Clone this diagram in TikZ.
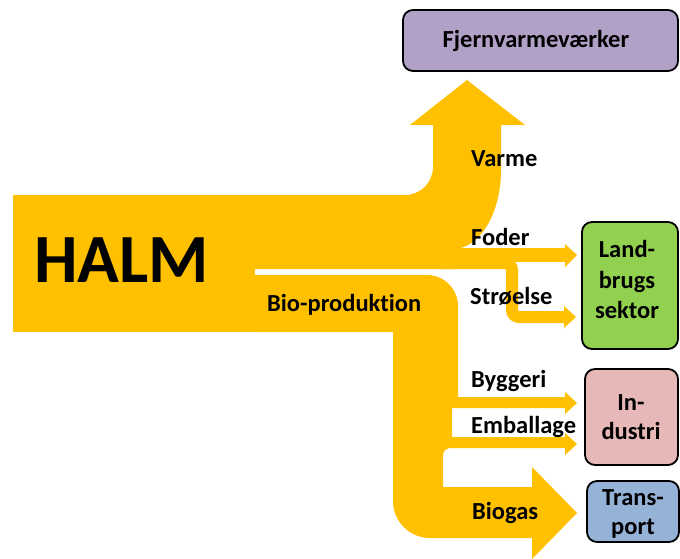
\documentclass[tikz,border=0pt]{standalone}
\usepackage{fontspec}
\setmainfont[Ligatures={NoCommon}]{Carlito}
\definecolor{halm}{HTML}{FFC000}
\definecolor{fjvcol}{HTML}{B2A1C7}
\definecolor{landcol}{HTML}{92D050}
\definecolor{indcol}{HTML}{E6B9B8}
\definecolor{trancol}{HTML}{95B3D7}
\begin{document}
\begin{tikzpicture}[x=1pt,y=-1pt,
  band/.style={fill=halm,draw=none},
  flowline/.style={draw=halm,line width=12pt,rounded corners=7pt},
  lbl/.style={font=\bfseries\fontsize{24.5}{29}\selectfont,anchor=base west,inner sep=0pt},
  boxtxt/.style={font=\bfseries\fontsize{24.5}{29}\selectfont,anchor=base,inner sep=0pt},
  target/.style={draw=black,line width=1.8pt,rounded corners=10pt,inner sep=0pt}]
\useasboundingbox (0,0) rectangle (680,559);
% source block
\path[band] (13,195) rectangle (255,332);
% upper band with Varme arrow
\path[band] (13,195) -- (405,195) .. controls (420.5,195) and (433,182.5) .. (433,167)
  -- (433,125) -- (410,125) -- (467,80) -- (525,125) -- (501,125) -- (501,170)
  .. controls (501,213.6) and (479.5,249) .. (453,249) -- (453,269) -- (13,269) -- cycle;
% Foder
\path[band] (440,248) rectangle (565,262);
\path[band] (565,244) -- (577,255) -- (565,267) -- cycle;
% Stroelse
\draw[flowline] (440,263) -- (512,263) -- (512,317) -- (565,317);
\path[band] (564,306) -- (576,317) -- (564,328) -- cycle;
% Bio-produktion trunk with Byggeri, Emballage, Biogas
\path[band] (255,275) -- (427,275) .. controls (444,275) and (458,289) .. (458,306)
  -- (458,397) -- (565,397) -- (565,392) -- (577,403) -- (565,414) -- (565,408)
  -- (452,408) -- (452,437) -- (565,437) -- (565,433) -- (577,444) -- (565,455)
  -- (565,448) -- (451,448) .. controls (446,448) and (443,451) .. (443,456)
  -- (443,487) -- (532,487) -- (532,467) -- (577,513) -- (532,559) -- (532,538)
  -- (430,538) .. controls (409.6,538) and (393,521.4) .. (393,501)
  -- (393,332) -- (255,332) -- cycle;
% target boxes
\node[target,fill=fjvcol,minimum width=275pt,minimum height=61pt] (fjv) at (540.5,40.5) {};
\node[target,fill=landcol,minimum width=96pt,minimum height=127pt] (land) at (630,285.5) {};
\node[target,fill=indcol,minimum width=93pt,minimum height=96pt] (ind) at (631.5,417) {};
\node[target,fill=trancol,minimum width=92pt,minimum height=61pt] (tran) at (633,511.5) {};
% box texts
\node[boxtxt] (tfjv) at (536,48) {Fjernvarmeværker};
\node[boxtxt] (tland1) at (627,257) {Land-};
\node[boxtxt] (tland2) at (627,288) {brugs};
\node[boxtxt] (tland3) at (627,318) {sektor};
\node[boxtxt] (tind1) at (631,410) {In-};
\node[boxtxt] (tind2) at (631,439) {dustri};
\node[boxtxt] (ttran1) at (633,505) {Trans-};
\node[boxtxt] (ttran2) at (633,534) {port};
% flow labels
\node[lbl,font=\bfseries\fontsize{69}{80}\selectfont] (halm) at (34,282) {HALM};
\node[lbl] (varme) at (471,167) {Varme};
\node[lbl] (foder) at (471,245) {Foder};
\node[lbl] (stro) at (470,304) {Strøelse};
\node[lbl] (bio) at (267,311) {Bio-produktion};
\node[lbl] (bygg) at (471,387) {Byggeri};
\node[lbl] (emb) at (471,433) {Emballage};
\node[lbl] (biogas) at (472,519) {Biogas};
\end{tikzpicture}
\end{document}
